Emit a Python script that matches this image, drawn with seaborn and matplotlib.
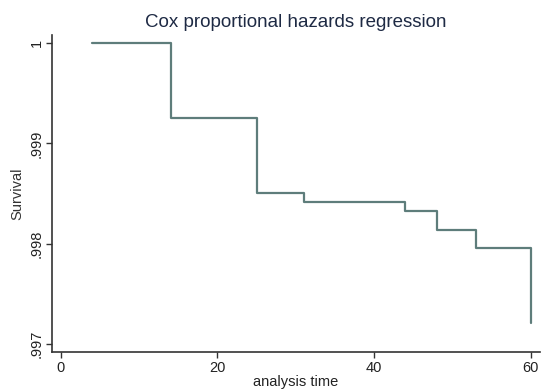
import matplotlib
matplotlib.use("Agg")
import matplotlib.pyplot as plt
import seaborn as sns
import pandas as pd

# Estimated survival at each failure time
time = [4, 14, 25, 31, 44, 48, 53, 60]
survival = [1.0, 0.99925, 0.99851, 0.99842, 0.99833, 0.99814, 0.99796, 0.99721]

x_ticks = [0, 20, 40, 60]
y_ticks = [0.997, 0.998, 0.999, 1.0]
y_tick_labels = [".997", ".998", ".999", "1"]

df = pd.DataFrame({"time": time, "survival": survival})

sns.set_style("white")
plt.rcParams["font.family"] = ["Liberation Sans", "DejaVu Sans"]

fig = plt.figure(figsize=(5.41, 3.9), dpi=100)
ax = fig.add_axes([0.096, 0.097, 0.902, 0.813])

sns.lineplot(data=df, x="time", y="survival", estimator=None, ax=ax,
             drawstyle="steps-post", color="#5e7d7b", linewidth=1.6)

ax.set_xlim(-1.15, 61.2)
ax.set_ylim(0.99692, 1.00008)
ax.set_xticks(x_ticks)
ax.set_xticklabels([str(t) for t in x_ticks])
ax.set_yticks(y_ticks)
ax.set_yticklabels(y_tick_labels, rotation=90, va="center")

ax.tick_params(axis="both", direction="out", length=4, width=1, color="#333333",
               labelsize=10.5, labelcolor="#222222", bottom=True, left=True)
ax.tick_params(axis="x", pad=2)
ax.tick_params(axis="y", pad=2)

sns.despine(ax=ax)
for side in ["left", "bottom"]:
    ax.spines[side].set_color("#333333")
    ax.spines[side].set_linewidth(1.2)

ax.set_xlabel("analysis time", fontsize=10.5, color="#222222", labelpad=0)
ax.set_ylabel("Survival", fontsize=10.5, color="#333333", labelpad=4)
ax.set_title("Cox proportional hazards regression", fontsize=13.5,
             color="#1e2a44", pad=6)

fig.savefig("out.png", dpi=100)
